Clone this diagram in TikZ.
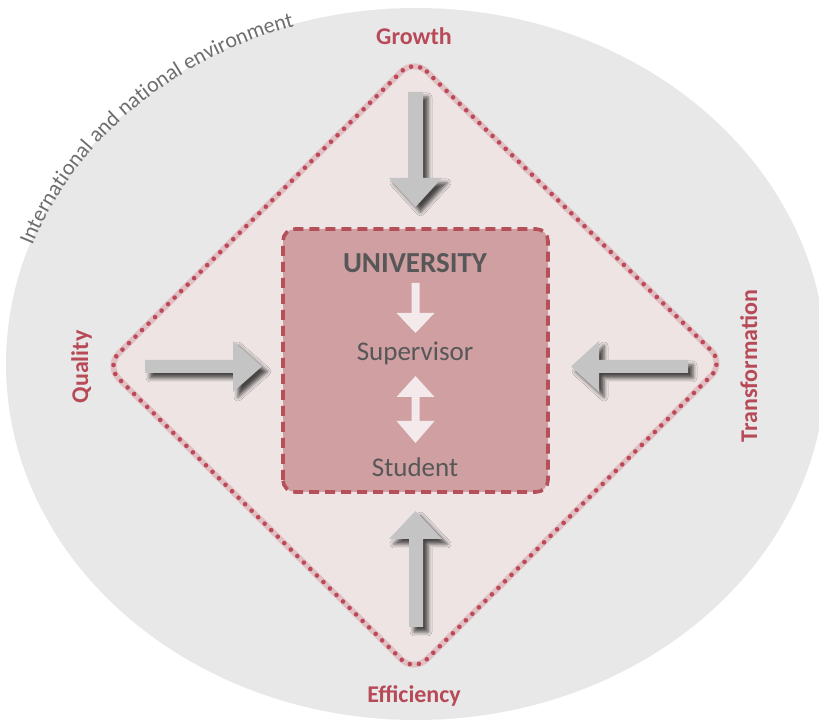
\documentclass[tikz,border=0pt]{standalone}
\usepackage{fontspec}
\setmainfont{Carlito}
\usetikzlibrary{decorations.text,decorations.markings,shadows.blur}
\definecolor{envfill}{RGB}{232,232,232}
\definecolor{diafill}{RGB}{238,228,228}
\definecolor{diaband}{RGB}{224,192,195}
\definecolor{redline}{RGB}{188,72,88}
\definecolor{unifill}{RGB}{207,159,162}
\definecolor{uniline}{RGB}{181,80,90}
\definecolor{labred}{RGB}{184,74,88}
\definecolor{txtgray}{RGB}{87,87,87}
\definecolor{arrowgray}{RGB}{196,196,196}
\definecolor{envtext}{RGB}{110,110,110}
\definecolor{warrowc}{RGB}{244,234,235}
\begin{document}
\begin{tikzpicture}[x=1pt,y=1pt,
  outerlabel/.style={text=labred, font=\bfseries\fontsize{24}{28}\selectfont, inner sep=0pt, anchor=base},
  innertext/.style={text=txtgray, font=\fontsize{27}{32}\selectfont, inner sep=0pt, anchor=base},
  garrow/.style={fill=arrowgray, blur shadow={shadow xshift=5pt, shadow yshift=-5pt, shadow blur radius=4pt, shadow opacity=70}},
  warrow/.style={fill=warrowc},
  diapath/.style={rounded corners=18pt},
  dotline/.style={decoration={markings, mark=between positions 0 and 1 step 9.2pt with {\fill[redline] (0,0) circle (2.3pt);}}, decorate}]
\useasboundingbox (0,0) rectangle (819,725);
\fill[white] (0,0) rectangle (819,725);
\begin{scope}
\clip (0,0) rectangle (819,725);
\fill[envfill] (416,361) ellipse [x radius=410, y radius=356];
\end{scope}
% curved environment text
\path[decorate, decoration={text along path, text align=fit to path,
  text={|\fontsize{22}{26}\selectfont\color{envtext}|International and national environment}}]
  (416,361) ++(160.5:407 and 354) arc [start angle=160.5, end angle=107.5, x radius=407, y radius=354];
% diamond
\fill[diafill, diapath] (414,666) -- (724,362) -- (414,53) -- (106,359) -- cycle;
\draw[diaband, line width=6pt, diapath] (414,666) -- (724,362) -- (414,53) -- (106,359) -- cycle;
\path[dotline, diapath] (414,666) -- (724,362) -- (414,53) -- (106,359) -- cycle;
% university square
\fill[unifill, rounded corners=12pt] (283,233) rectangle (548,496);
\draw[uniline, line width=3.6pt, dash pattern=on 10pt off 6pt, rounded corners=12pt] (283,233) rectangle (548,496);
% gray arrows
\fill[garrow] (408,633) -- (423,633) -- (423,547) -- (442,547) -- (415.5,518) -- (389,547) -- (408,547) -- cycle;
\fill[garrow] (415.5,214) -- (442,186) -- (423,186) -- (423,98) -- (409,98) -- (409,186) -- (389,186) -- cycle;
\fill[garrow] (145,365) -- (233,365) -- (233,384) -- (262,358.5) -- (233,333) -- (233,352) -- (145,352) -- cycle;
\fill[garrow] (571,358.5) -- (599,384) -- (599,365) -- (688,365) -- (688,352) -- (599,352) -- (599,333) -- cycle;
% white arrows
\fill[warrow] (411.5,442) -- (419.5,442) -- (419.5,412) -- (434.5,412) -- (415.5,392) -- (396.5,412) -- (411.5,412) -- cycle;
\fill[warrow] (415.5,349) -- (434.5,328) -- (419.5,328) -- (419.5,304) -- (434.5,304) -- (415.5,282) -- (396.5,304) -- (411.5,304) -- (411.5,328) -- (396.5,328) -- cycle;
% texts
\node[innertext, font=\bfseries\fontsize{29}{34}\selectfont] (uni) at (415,452) {UNIVERSITY};
\node[innertext] (sup) at (415,364) {Supervisor};
\node[innertext] (stu) at (415,248) {Student};
\node[outerlabel] (growth) at (414,680) {Growth};
\node[outerlabel] (eff) at (414,22) {Efficiency};
\node[outerlabel, rotate=90] (qual) at (88,358) {Quality};
\node[outerlabel, rotate=90] (trans) at (757,359) {Transformation};
\end{tikzpicture}
\end{document}
